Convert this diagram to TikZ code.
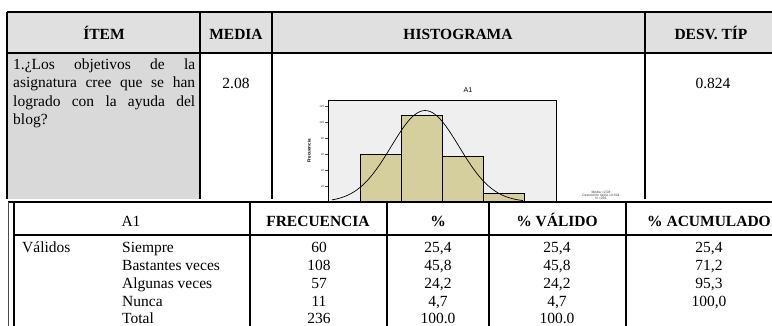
\documentclass[tikz,border=0pt]{standalone}
\usepackage{fontspec}
\setmainfont{Liberation Serif}
\setsansfont{Liberation Sans}
\definecolor{hdrgray}{HTML}{E0E0E0}
\definecolor{itemgray}{HTML}{D9D9D9}
\definecolor{plotgray}{HTML}{EFEFEF}
\definecolor{barkhaki}{HTML}{D4CF9C}
\begin{document}
\begin{tikzpicture}[x=1pt,y=-1pt,
    txt/.style={inner sep=0pt,anchor=base,font=\fontsize{15.5}{18.3}\selectfont},
    hdr/.style={inner sep=0pt,anchor=base,font=\fontsize{15.5}{18.3}\selectfont\bfseries},
    tline/.style={line width=1.1pt},
    tlinebold/.style={line width=2pt},
    bar/.style={fill=barkhaki,draw=black,line width=1pt},
    ticklbl/.style={inner sep=0pt,anchor=east,font=\sffamily\fontsize{3}{3}\selectfont,text=black!70}]
  \useasboundingbox (0,0) rectangle (772,325);
  \clip (0,0) rectangle (772,325);
  \fill[hdrgray] (7,12) rectangle (790,53);
  \fill[itemgray] (7,53) rectangle (200,199);
  \draw[tline] (7,12) -- (790,12);
  \draw[tlinebold] (7,53) -- (790,53);
  \draw[tline] (7,12) -- (7,199);
  \draw[tline] (200,12) -- (200,199);
  \draw[tline] (272,12) -- (272,199);
  \draw[tline] (645,12) -- (645,199);
  \node[hdr] (item) at (104,39) {ÍTEM};
  \node[hdr] (media) at (236,39) {MEDIA};
  \node[hdr] (histo) at (458,39) {HISTOGRAMA};
  \node[hdr] (desv) at (711,39) {DESV. TÍP};
  \node[txt,anchor=base west] (itemtxt) at (13,69.5) {\parbox[t]{182pt}{%
    \makebox[182pt][s]{1.¿Los objetivos de la}\\
    \makebox[182pt][s]{asignatura cree que se han}\\
    \makebox[182pt][s]{logrado con la ayuda del}\\
    blog?}};
  \node[txt] (mediaval) at (236,88) {2.08};
  \node[txt] (desvval) at (713,88) {0.824};
  \filldraw[fill=plotgray,draw=black,line width=0.6pt] (328,100) rectangle (556,202);
  \node[inner sep=0pt,font=\sffamily\fontsize{7}{7}\selectfont] (htitle) at (468,90) {A1};
  \draw[bar] (360,154) rectangle (401.2,202);
  \draw[bar] (401.2,115.6) rectangle (442.4,202);
  \draw[bar] (442.4,156.4) rectangle (483.6,202);
  \draw[bar] (483.6,193.2) rectangle (524.8,202);
  \draw[line width=0.7pt] plot[domain=-0.18:4.46,samples=90,smooth]
    ({380.6+(\x-1)*41.2},{202-91.44*exp(-((\x-2.08)^2)/1.358)});
  \draw[line width=0.4pt,black!70] (325,106) -- (328,106);
  \draw[line width=0.4pt,black!70] (325,122) -- (328,122);
  \draw[line width=0.4pt,black!70] (325,138) -- (328,138);
  \draw[line width=0.4pt,black!70] (325,154) -- (328,154);
  \draw[line width=0.4pt,black!70] (325,170) -- (328,170);
  \draw[line width=0.4pt,black!70] (325,186) -- (328,186);
  \node[ticklbl] (t120) at (324.5,106) {120};
  \node[ticklbl] (t100) at (324.5,122) {100};
  \node[ticklbl] (t80) at (324.5,138) {80};
  \node[ticklbl] (t60) at (324.5,154) {60};
  \node[ticklbl] (t40) at (324.5,170) {40};
  \node[ticklbl] (t20) at (324.5,186) {20};
  \node[inner sep=0pt,rotate=90,font=\sffamily\bfseries\fontsize{4.5}{4.5}\selectfont] (ylbl) at (309,151) {Frecuencia};
  \node[inner sep=0pt,align=center,text=black!75,font=\sffamily\fontsize{3.4}{3.2}\selectfont] (legend) at (601,195.5)
    {Media =2,08\\Desviación típica =0,824\\N =236};
  \fill[white] (8,202) rectangle (790,330);
  \draw[tlinebold] (8,202) -- (790,202);
  \draw[tlinebold] (13,235) -- (790,235);
  \draw[line width=0.8pt,black!70] (8,202) -- (8,330);
  \draw[tlinebold] (13.5,202) -- (13.5,330);
  \draw[tline] (250,202) -- (250,330);
  \draw[tline] (387,202) -- (387,330);
  \draw[tline] (489,202) -- (489,330);
  \draw[tline] (626,202) -- (626,330);
  \node[txt] (a1) at (131,226) {A1};
  \node[hdr] (frec) at (318,226) {FRECUENCIA};
  \node[hdr] (pct) at (438,226) {\%};
  \node[hdr] (pval) at (557,226) {\% VÁLIDO};
  \node[hdr] (pacum) at (709,226) {\% ACUMULADO};
  \node[txt,anchor=base west] (validos) at (22,252) {Válidos};
  \node[txt,anchor=base west] (siempre) at (122,252) {Siempre};
  \node[txt,anchor=base west] (bastantes) at (122,270) {Bastantes veces};
  \node[txt,anchor=base west] (algunas) at (122,288.2) {Algunas veces};
  \node[txt,anchor=base west] (nunca) at (122,306.5) {Nunca};
  \node[txt,anchor=base west] (total) at (122,323) {Total};
  \node[txt] (f1) at (319,252) {60};
  \node[txt] (f2) at (319,270) {108};
  \node[txt] (f3) at (319,288.2) {57};
  \node[txt] (f4) at (319,306.5) {11};
  \node[txt] (f5) at (319,323) {236};
  \node[txt] (p1) at (438,252) {25,4};
  \node[txt] (p2) at (438,270) {45,8};
  \node[txt] (p3) at (438,288.2) {24,2};
  \node[txt] (p4) at (438,306.5) {4,7};
  \node[txt] (p5) at (438,323) {100.0};
  \node[txt] (v1) at (557,252) {25,4};
  \node[txt] (v2) at (557,270) {45,8};
  \node[txt] (v3) at (557,288.2) {24,2};
  \node[txt] (v4) at (557,306.5) {4,7};
  \node[txt] (v5) at (557,323) {100.0};
  \node[txt] (c1) at (709,252) {25,4};
  \node[txt] (c2) at (709,270) {71,2};
  \node[txt] (c3) at (709,288.2) {95,3};
  \node[txt] (c4) at (709,306.5) {100,0};
\end{tikzpicture}
\end{document}
